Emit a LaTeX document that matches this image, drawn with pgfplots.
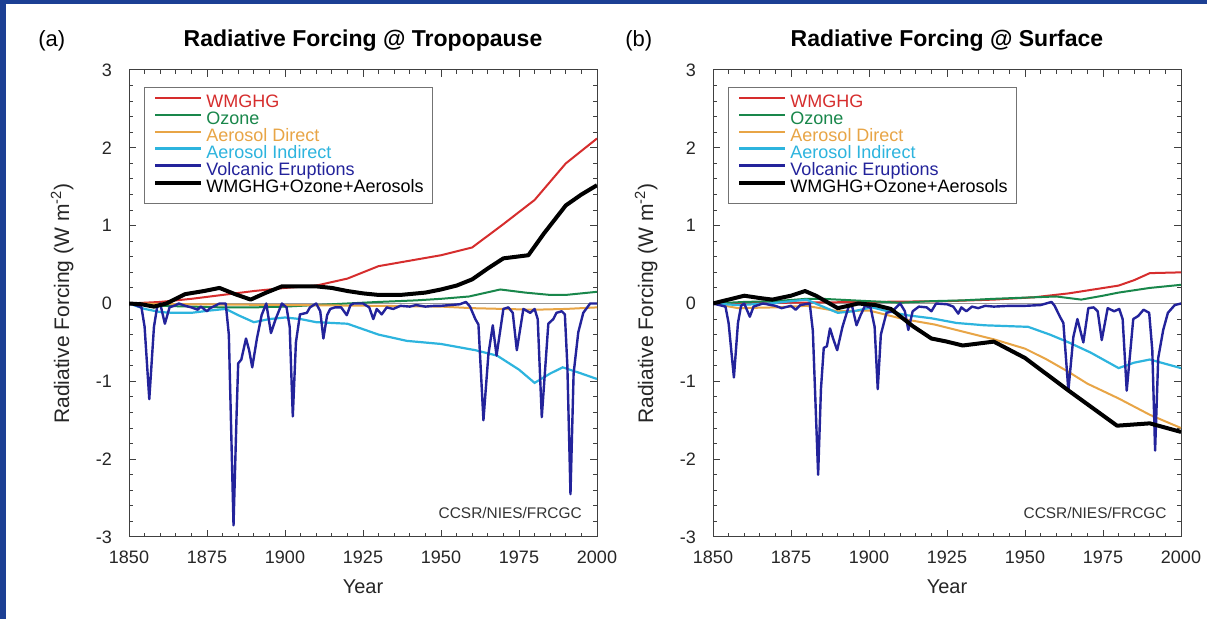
\documentclass[border=0pt]{standalone}
\usepackage{fontspec}
\setmainfont{Liberation Sans}
\usepackage{pgfplots}
\pgfplotsset{compat=1.18}
\definecolor{frameblue}{RGB}{28,63,148}
\definecolor{cWM}{RGB}{214,45,45}
\definecolor{cOz}{RGB}{25,135,75}
\definecolor{cAD}{RGB}{232,165,70}
\definecolor{cAI}{RGB}{45,180,222}
\definecolor{cVo}{RGB}{35,35,155}

\pgfplotsset{
  rf/.style={
    scale only axis, width=234pt, height=233.5pt,
    xmin=1850, xmax=2000, ymin=-3, ymax=3,
    xtick={1850,1875,...,2000}, ytick={-3,-2,...,3},
    minor x tick num=4, minor y tick num=4,
    tick align=inside,
    major tick length=3.5pt, minor tick length=2pt,
    tick style={black!75, line width=0.5pt},
    axis line style={black!75, line width=0.5pt},
    ticklabel style={font=\fontsize{9}{9}\selectfont, text=black!85},
    /pgf/number format/assume math mode=true,
    /pgf/number format/1000 sep={},
    xticklabel style={yshift=-3.5pt},
    yticklabel style={xshift=-5pt},
    xlabel={Year},
    ylabel={Radiative Forcing (W m\textsuperscript{-2})},
    xlabel style={at={(axis description cs:0.5,-0.122)}, anchor=base,
      font=\fontsize{10}{10}\selectfont, text=black!85},
    ylabel style={at={(axis description cs:-0.128,0.5)}, anchor=base,
      font=\fontsize{10.5}{10.5}\selectfont, text=black!85},
    title style={at={(axis description cs:0.5,1)}, anchor=base, yshift=5.5pt,
      font=\bfseries\fontsize{11.5}{11.5}\selectfont},
    legend cell align=left,
    legend image code/.code={\draw[##1] (0pt,2.6pt) -- (23pt,2.6pt);},
    legend style={at={(0.032,0.9636)}, anchor=north west,
      draw=black!55, line width=0.5pt, fill=white,
      inner xsep=4.5pt, inner ysep=3.5pt, row sep=0.2pt, column sep=1.5pt,
      nodes={inner sep=0pt, text height=6.5pt, text depth=1.8pt,
        font=\fontsize{9}{9}\selectfont}},
  },
  wm/.style={cWM, line width=1pt},
  oz/.style={cOz, line width=1pt},
  ad/.style={cAD, line width=1pt},
  ai/.style={cAI, line width=1.1pt},
  vo/.style={cVo, line width=1.2pt, line join=round},
  tot/.style={black, line width=2pt, line join=round},
}

\begin{document}
\begin{tikzpicture}
\fill[white] (0,0) rectangle (603.5pt,309.5pt);
\fill[frameblue] (0,0) rectangle (3pt,309.5pt);
\fill[frameblue] (0,307.25pt) rectangle (603.5pt,309.5pt);

% (a) tropopause
\begin{axis}[rf, at={(64.5pt,41pt)}, anchor=south west,
  title={Radiative Forcing @ Tropopause}]
\addplot[black!40, line width=0.4pt, forget plot] coordinates {(1850,0) (2000,0)};
\addplot[wm] coordinates {
 (1850,0) (1860,0.02) (1870,0.06) (1880,0.11) (1890,0.16) (1900,0.2) (1910,0.23)
 (1920,0.32) (1930,0.48) (1940,0.55) (1950,0.62) (1960,0.72) (1970,1.02)
 (1980,1.33) (1990,1.8) (2000,2.12)};
\addlegendentry{\textcolor{cWM}{WMGHG}}
\addplot[oz] coordinates {
 (1850,0) (1860,-0.03) (1870,-0.04) (1880,-0.05) (1890,-0.05) (1900,-0.04)
 (1910,-0.02) (1920,0) (1930,0.02) (1942,0.04) (1950,0.06) (1959,0.09)
 (1969,0.18) (1977,0.14) (1985,0.11) (1990,0.11) (2000,0.15)};
\addlegendentry{\textcolor{cOz}{Ozone}}
\addplot[ad] coordinates {
 (1850,0) (1870,-0.01) (1900,-0.02) (1930,-0.03) (1950,-0.04) (1960,-0.06)
 (1980,-0.08) (1990,-0.07) (2000,-0.05)};
\addlegendentry{\textcolor{cAD}{Aerosol Direct}}
\addplot[ai] coordinates {
 (1850,0) (1855,-0.07) (1860,-0.11) (1864,-0.12) (1870,-0.12) (1876,-0.09)
 (1881,-0.07) (1885,-0.15) (1890,-0.24) (1895,-0.2) (1900,-0.18) (1905,-0.2)
 (1910,-0.24) (1915,-0.25) (1920,-0.26) (1925,-0.33) (1930,-0.4) (1939,-0.48)
 (1950,-0.52) (1961,-0.6) (1968,-0.67) (1975,-0.85) (1980,-1.02) (1985,-0.9)
 (1989,-0.82) (1995,-0.9) (2000,-0.97)};
\addlegendentry{\textcolor{cAI}{Aerosol Indirect}}
\addplot[vo] coordinates {
 (1850,0) (1852,-0.02) (1854,-0.05) (1855,-0.3) (1856.5,-1.23) (1858,-0.3)
 (1859,-0.05) (1860,0) (1861.5,-0.26) (1863,-0.05) (1865,-0.02) (1866,0)
 (1868,-0.03) (1870,-0.05) (1872,-0.08) (1873,-0.04) (1875,-0.1) (1876,-0.06)
 (1878,-0.02) (1879,0) (1881,0) (1882,-0.4) (1883.5,-2.85) (1884.5,-1.4)
 (1885,-0.77) (1886,-0.72) (1887.5,-0.45) (1888.5,-0.6) (1889.5,-0.82)
 (1891,-0.45) (1892.5,-0.15) (1894,0) (1895.5,-0.38) (1897,-0.2) (1899,0)
 (1900.5,-0.05) (1901.5,-0.3) (1902.5,-1.45) (1903.5,-0.5) (1904.8,-0.14)
 (1907,-0.12) (1908,-0.05) (1910,0) (1911.3,-0.1) (1912.3,-0.45) (1913.5,-0.15)
 (1914.5,-0.07) (1916,-0.05) (1918,-0.05) (1919.8,-0.15) (1921,-0.02) (1922,0)
 (1925,0) (1927,-0.05) (1928.3,-0.2) (1929.4,-0.07) (1931,-0.14) (1932.6,-0.05)
 (1934.7,-0.07) (1937,-0.03) (1940,-0.04) (1942,-0.02) (1945,-0.04) (1948,-0.03)
 (1950,-0.03) (1953,-0.02) (1956,-0.01) (1958,0.02) (1959.3,-0.04) (1961,-0.2)
 (1962,-0.27) (1963.6,-1.5) (1965.2,-0.65) (1966.6,-0.28) (1967.8,-0.67)
 (1970,-0.07) (1971.6,-0.05) (1973,-0.12) (1974.3,-0.6) (1976.4,-0.07)
 (1978.6,-0.12) (1980,-0.07) (1981,-0.2) (1982.3,-1.46) (1984.4,-0.26)
 (1986,-0.2) (1987,-0.12) (1988.7,-0.1) (1989.7,-0.14) (1990.5,-0.8)
 (1991.5,-2.45) (1992.5,-0.9) (1994,-0.37) (1995.6,-0.12) (1997.8,0) (2000,0)};
\addlegendentry{\textcolor{cVo}{Volcanic Eruptions}}
\addplot[tot] coordinates {
 (1850,0) (1854,-0.01) (1858,-0.04) (1862,0) (1865,0.06) (1868,0.12) (1874,0.16)
 (1879,0.2) (1884,0.12) (1889,0.05) (1894,0.14) (1899,0.22) (1905,0.22)
 (1910,0.22) (1915,0.2) (1920,0.16) (1925,0.13) (1930,0.11) (1937,0.11)
 (1945,0.14) (1950,0.18) (1955,0.23) (1960,0.31) (1965,0.45) (1970,0.58)
 (1978,0.62) (1983,0.9) (1990,1.26) (1995,1.4) (2000,1.52)};
\addlegendentry{WMGHG+Ozone+Aerosols}
\node[anchor=base east, font=\fontsize{7.7}{7.7}\selectfont, text=black!80, inner sep=0pt]
  at (axis description cs:0.968,0.04) {CCSR/NIES/FRCGC};
\end{axis}

% (b) surface
\begin{axis}[rf, at={(356.5pt,41pt)}, anchor=south west,
  title={Radiative Forcing @ Surface}]
\addplot[black!40, line width=0.4pt, forget plot] coordinates {(1850,0) (2000,0)};
\addplot[wm] coordinates {
 (1850,0) (1875,0.01) (1900,0.02) (1925,0.03) (1940,0.05) (1953,0.08)
 (1964,0.13) (1972,0.18) (1980,0.23) (1985,0.3) (1990,0.39) (2000,0.4)};
\addlegendentry{\textcolor{cWM}{WMGHG}}
\addplot[oz] coordinates {
 (1850,0) (1860,0.02) (1870,0.03) (1880,0.06) (1885,0.06) (1890,0.05)
 (1900,0.03) (1910,0.01) (1920,0.03) (1930,0.04) (1940,0.06) (1953,0.08)
 (1960,0.09) (1968,0.05) (1975,0.1) (1980,0.14) (1990,0.2) (2000,0.24)};
\addlegendentry{\textcolor{cOz}{Ozone}}
\addplot[ad] coordinates {
 (1850,0) (1858,-0.06) (1870,-0.05) (1880,-0.03) (1890,-0.1) (1900,-0.09)
 (1911,-0.2) (1921,-0.27) (1930,-0.36) (1940,-0.46) (1950,-0.58) (1957,-0.72)
 (1964,-0.88) (1970,-1.03) (1980,-1.22) (1990,-1.43) (2000,-1.6)};
\addlegendentry{\textcolor{cAD}{Aerosol Direct}}
\addplot[ai] coordinates {
 (1850,0) (1858,-0.02) (1868,0) (1880,0.05) (1884,-0.02) (1890,-0.12)
 (1895,-0.1) (1901,-0.05) (1906,-0.1) (1912,-0.15) (1920,-0.19) (1928,-0.25)
 (1937,-0.28) (1951,-0.3) (1958,-0.4) (1964,-0.5) (1971,-0.63) (1980,-0.83)
 (1985,-0.76) (1990,-0.72) (2000,-0.83)};
\addlegendentry{\textcolor{cAI}{Aerosol Indirect}}
\addplot[vo] coordinates {
 (1850,0) (1852,-0.02) (1854,-0.04) (1855,-0.25) (1856.7,-0.95) (1858,-0.25)
 (1859,-0.03) (1860,0) (1861.8,-0.17) (1863,-0.04) (1866,0) (1870,-0.03)
 (1872,-0.06) (1875,-0.03) (1876.5,-0.08) (1878,-0.02) (1881,0) (1882,-0.35)
 (1883.7,-2.2) (1884.6,-1.1) (1885.5,-0.57) (1886.5,-0.55) (1887.5,-0.32)
 (1888.5,-0.45) (1889.8,-0.6) (1891.5,-0.3) (1893.4,-0.05) (1894.5,-0.02)
 (1896,-0.28) (1897.3,-0.15) (1898.7,-0.03) (1900.5,-0.05) (1901.8,-0.3)
 (1902.8,-1.1) (1903.8,-0.4) (1905.6,-0.12) (1907.5,-0.1) (1910,0)
 (1911.5,-0.1) (1912.6,-0.34) (1914,-0.1) (1916,-0.04) (1918.5,-0.05)
 (1920,-0.1) (1921.5,0) (1925,-0.01) (1927,-0.04) (1928.6,-0.13) (1929.6,-0.05)
 (1931.2,-0.1) (1933,-0.04) (1935,-0.06) (1937.2,-0.03) (1940,-0.04)
 (1945,-0.03) (1950,-0.03) (1955,-0.02) (1958.5,0.02) (1959.5,-0.03)
 (1961.2,-0.17) (1962.3,-0.25) (1963.9,-1.12) (1965.5,-0.43) (1966.8,-0.2)
 (1968.7,-0.5) (1970.3,-0.06) (1972,-0.05) (1973.3,-0.1) (1974.6,-0.47)
 (1976.5,-0.06) (1978.6,-0.1) (1980.2,-0.07) (1981.3,-0.2) (1982.6,-1.12)
 (1984.7,-0.2) (1986.3,-0.16) (1988,-0.08) (1989.8,-0.12) (1990.8,-0.6)
 (1991.7,-1.89) (1992.7,-0.7) (1994.3,-0.34) (1995.8,-0.12) (1998,-0.02) (2000,0)};
\addlegendentry{\textcolor{cVo}{Volcanic Eruptions}}
\addplot[tot] coordinates {
 (1850,0) (1855,0.05) (1860,0.1) (1865,0.07) (1869,0.05) (1875,0.1)
 (1879.5,0.16) (1883,0.1) (1890,-0.06) (1896.6,0) (1902,-0.02) (1907,-0.07)
 (1914,-0.29) (1920,-0.45) (1925,-0.49) (1930,-0.54) (1940,-0.49) (1950,-0.7)
 (1964,-1.12) (1979.5,-1.57) (1990,-1.54) (2000,-1.65)};
\addlegendentry{WMGHG+Ozone+Aerosols}
\node[anchor=base east, font=\fontsize{7.7}{7.7}\selectfont, text=black!80, inner sep=0pt]
  at (axis description cs:0.97,0.04) {CCSR/NIES/FRCGC};
\end{axis}

\node[anchor=base west, font=\fontsize{11}{11}\selectfont, inner sep=0pt] at (19pt,286pt) {(a)};
\node[anchor=base west, font=\fontsize{11}{11}\selectfont, inner sep=0pt] at (312.5pt,286pt) {(b)};
\pgfresetboundingbox
\path (0,0) rectangle (603.5pt,309.5pt);
\end{tikzpicture}
\end{document}
